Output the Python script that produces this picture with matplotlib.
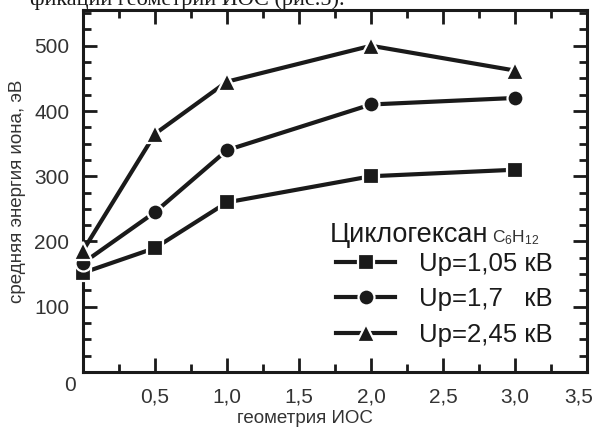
import matplotlib
matplotlib.use("Agg")
import matplotlib.pyplot as plt
import matplotlib.transforms as mtransforms
from matplotlib.ticker import MultipleLocator, FuncFormatter

plt.rcParams["font.family"] = ["Liberation Sans", "DejaVu Sans"]

# geometry of the ion-optical system vs mean ion energy
geometry = [0.0, 0.5, 1.0, 2.0, 3.0]
energy_105 = [152, 190, 260, 300, 310]
energy_17 = [167, 245, 340, 410, 420]
energy_245 = [186, 365, 445, 500, 462]

series_labels = ["Up=1,05 кВ", "Up=1,7   кВ", "Up=2,45 кВ"]
series_markers = ["s", "o", "^"]
series_sizes = [11, 11.5, 12.5]

X_MAX = 3.5

fig = plt.figure(figsize=(5.99, 4.30), dpi=100)
ax = fig.add_axes([0.1386, 0.135, 0.8414, 0.842])

handles = []
for ys, lab, mk, ms in zip([energy_105, energy_17, energy_245],
                           series_labels, series_markers, series_sizes):
    h, = ax.plot(geometry, ys, color="#1a1a1a", lw=3.0, marker=mk, ms=ms,
                 mfc="#1a1a1a", mec="white", mew=1.6, clip_on=False,
                 label=lab, zorder=3)
    handles.append(h)

ax.set_xlim(0, X_MAX)
ax.set_ylim(0, 555)

ax.xaxis.set_major_locator(MultipleLocator(0.5))
ax.xaxis.set_minor_locator(MultipleLocator(0.25))
ax.yaxis.set_major_locator(MultipleLocator(100))
ax.yaxis.set_minor_locator(MultipleLocator(25))


def fmt_x(v, p):
    # origin and the right end are written separately
    if abs(v) < 1e-9 or abs(v - X_MAX) < 1e-9:
        return ""
    return f"{v:.1f}".replace(".", ",")


ax.xaxis.set_major_formatter(FuncFormatter(fmt_x))
ax.yaxis.set_major_formatter(FuncFormatter(
    lambda v, p: "" if abs(v) < 1e-9 else f"{v:.0f}"))

for s in ax.spines.values():
    s.set_linewidth(2.2)
    s.set_color("#1a1a1a")

ax.tick_params(which="both", direction="in", top=True, right=True,
               colors="#1a1a1a", width=2.0, labelsize=15, labelcolor="#333333")
ax.tick_params(which="major", length=10)
ax.tick_params(which="minor", length=6)
ax.tick_params(axis="y", which="major", pad=10)
ax.tick_params(axis="x", which="major", pad=11)

# right-end label, nudged inside the figure edge
shift = mtransforms.ScaledTranslation(-6 / 72, -11 / 72, fig.dpi_scale_trans)
ax.text(X_MAX, 0, f"{X_MAX:.1f}".replace(".", ","),
        transform=ax.get_xaxis_transform() + shift,
        ha="center", va="top", fontsize=15, color="#333333")

# shared origin label
ax.text(-7 / 504, -0.012, "0", transform=ax.transAxes, ha="right",
        va="top", fontsize=15, color="#333333")

ax.set_xlabel("геометрия ИОС", fontsize=13.5, color="#333333")
ax.xaxis.set_label_coords(0.44, -0.105)
ax.set_ylabel("средняя энергия иона, эВ", fontsize=13.5, color="#333333",
              labelpad=6)

# legend
fig.text(330 / 599, 1 - 242 / 430, "Циклогексан", fontsize=19.5,
         color="#1a1a1a", ha="left", va="baseline")
fig.text(492 / 599, 1 - 242 / 430, r"$\mathregular{C_6H_{12}}$",
         fontsize=12.5, color="#333333", ha="left", va="baseline")
leg = ax.legend(handles=handles, loc="upper left",
                bbox_to_anchor=(318 / 599, 1 - 234 / 430),
                bbox_transform=fig.transFigure, frameon=False,
                fontsize=18.5, handlelength=2.3, handletextpad=0.95,
                labelspacing=0.44, borderpad=0.2)
for t in leg.get_texts():
    t.set_color("#1a1a1a")

# cut-off caption line above the figure
fig.text(345 / 599, 1.0, "фикации геометрии ИОС (рис.5).", fontsize=16,
         family=["Liberation Serif", "DejaVu Serif"], ha="right", va="center",
         color="#1a1a1a")

fig.savefig("out.png", dpi=100)
